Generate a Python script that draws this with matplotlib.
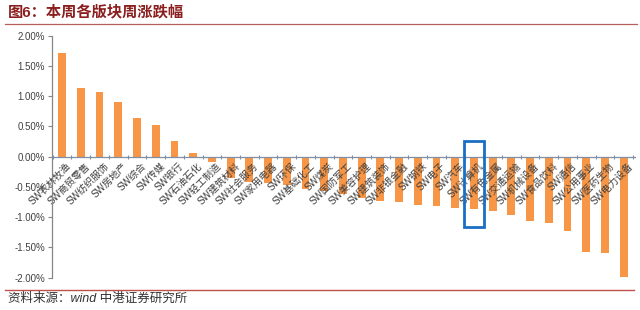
import matplotlib
matplotlib.use('Agg')
import matplotlib.pyplot as plt
from matplotlib.patches import Rectangle
from matplotlib.lines import Line2D
from matplotlib.transforms import ScaledTranslation

plt.rcParams['font.family'] = ['Liberation Sans', 'Noto Sans CJK SC']

title = "图6：本周各版块周涨跌幅"
source = "资料来源：wind 中港证券研究所"

categories = ["SW农林牧渔", "SW商贸零售", "SW纺织服饰", "SW房地产", "SW综合", "SW传媒",
              "SW银行", "SW石油石化", "SW轻工制造", "SW建筑材料", "SW社会服务", "SW家用电器",
              "SW环保", "SW基础化工", "SW煤炭", "SW国防军工", "SW美容护理", "SW建筑装饰",
              "SW非银金融", "SW钢铁", "SW电子", "SW汽车", "SW计算机", "SW有色金属",
              "SW交通运输", "SW机械设备", "SW食品饮料", "SW通信", "SW公用事业",
              "SW医药生物", "SW电力设备"]
values = [1.72, 1.13, 1.07, 0.91, 0.64, 0.53, 0.26, 0.055, -0.09, -0.35, -0.41, -0.44,
          -0.47, -0.54, -0.57, -0.62, -0.68, -0.73, -0.75, -0.80, -0.82, -0.855, -0.87,
          -0.905, -0.97, -1.055, -1.09, -1.22, -1.58, -1.595, -1.99]
yticks = [2.0, 1.5, 1.0, 0.5, 0.0, -0.5, -1.0, -1.5, -2.0]
highlight = "SW计算机"

fig = plt.figure(figsize=(6.4, 3.1), dpi=100)
ax = fig.add_axes([0.081, 0.104, 0.911, 0.781])

x = list(range(len(categories)))
ax.bar(x, values, width=0.42, color='#F79646', zorder=1)

ax.set_xlim(-0.55, len(categories) - 0.4)
ax.set_ylim(yticks[-1], yticks[0])
ax.set_yticks(yticks)
ax.set_yticklabels([f"{v:.2f}%" for v in yticks], fontsize=7, color='#404040')
ax.tick_params(axis='y', length=3, width=0.8, color='#868686', pad=2)

for s in ['top', 'right']:
    ax.spines[s].set_visible(False)
ax.spines['left'].set_color('#868686')
ax.spines['left'].set_linewidth(0.9)
ax.spines['bottom'].set_position(('data', 0))
ax.spines['bottom'].set_color('#7F8FA6')
ax.spines['bottom'].set_linewidth(0.9)

ax.set_xticks(x)
ax.set_xticklabels(categories, rotation=45, ha='right', va='top',
                   rotation_mode='anchor', fontsize=7, color='#404040')
ax.set_xticks([i + 0.5 for i in range(-1, len(categories))], minor=True)
ax.tick_params(axis='x', which='major', length=0, pad=3)
ax.tick_params(axis='x', which='minor', length=3, width=0.8, color='#7F8FA6', direction='inout')
shift = ScaledTranslation(0.04, 0, fig.dpi_scale_trans)
for lbl in ax.get_xticklabels():
    lbl.set_transform(lbl.get_transform() + shift)

hi = categories.index(highlight)
ax.add_patch(Rectangle((hi - 0.55, -1.16), 1.1, 1.415, fill=False,
                       edgecolor='#1A6FC4', linewidth=2.0, zorder=5, clip_on=False))

fig.text(0.012, 0.962, title, fontsize=11, fontweight='bold', color='#8B1E1E', va='center')
fig.add_artist(Line2D([0.008, 0.995], [0.924, 0.924], transform=fig.transFigure,
                      color='#B5605A', linewidth=0.9))
fig.add_artist(Line2D([0.008, 0.99], [0.064, 0.064], transform=fig.transFigure,
                      color='#C0504D', linewidth=1.0))
fig.text(0.012, 0.036, source, fontsize=9, style='italic', color='#333333', va='center')

fig.savefig('out.png', dpi=100, facecolor='white')
